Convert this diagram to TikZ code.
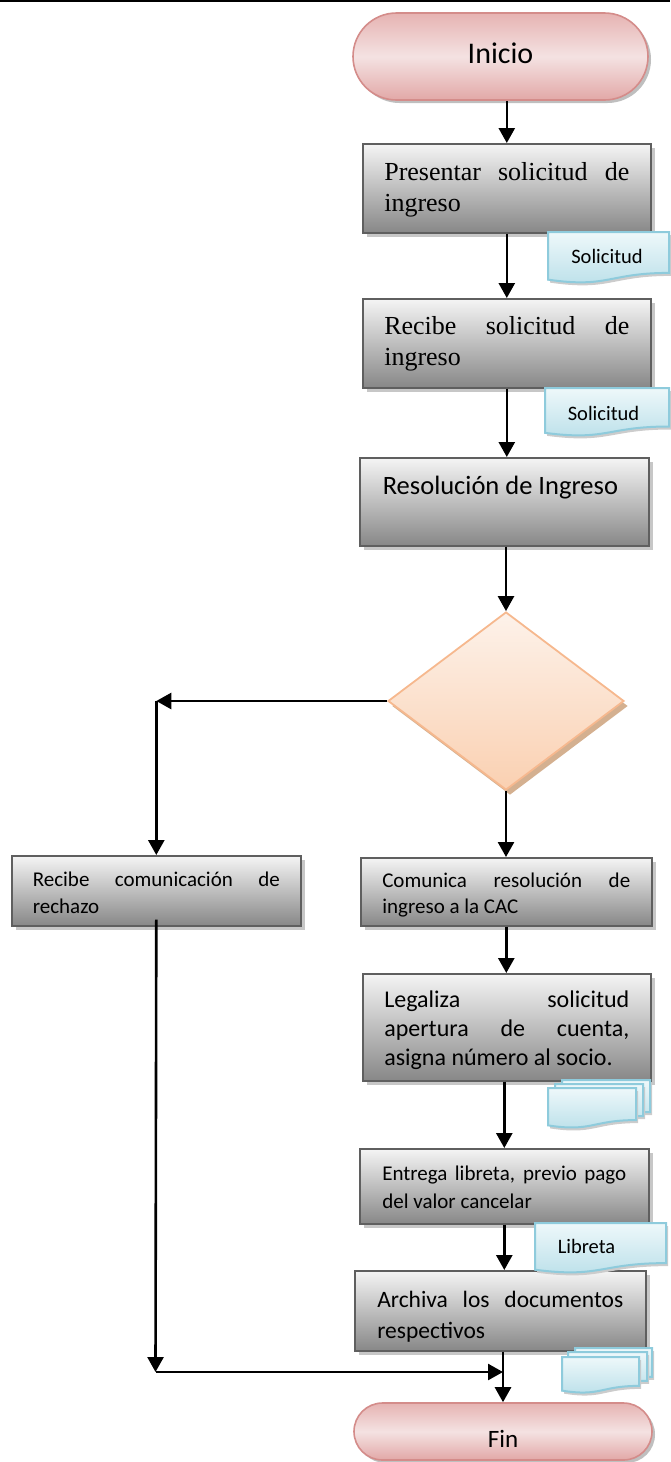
\documentclass[tikz,border=0pt]{standalone}
\usepackage{fontspec}
\setmainfont{Carlito}
\newfontfamily\timesf{Liberation Serif}
\usetikzlibrary{arrows.meta,shapes.geometric,shapes.misc,shadows}

\definecolor{termtop}{HTML}{E6B3B2}
\definecolor{termmid}{HTML}{F4E2E2}
\definecolor{termbot}{HTML}{E2A8A7}
\definecolor{termline}{HTML}{D48C8A}
\definecolor{diatop}{HTML}{FDF2EA}
\definecolor{diabot}{HTML}{FAD0B1}
\definecolor{dialine}{HTML}{F6B88E}
\definecolor{diashadow}{HTML}{D4B090}
\definecolor{doctop}{HTML}{EEF8FA}
\definecolor{docbot}{HTML}{B9DFE9}
\definecolor{docline}{HTML}{8ECBDC}
\definecolor{boxline}{HTML}{5F5F5F}

\newcommand\tst[1]{\rule{0pt}{#1pt}}
\newcommand\bst[1]{\rule[-#1pt]{0pt}{#1pt}}

\newcommand\docshape[4]{%
  \fill[black!20] ({#1+2},{#2+3}) -- ({#3+2},{#2+3}) -- ({#3+2},{#2+3+0.802*#4}) .. controls ({(#1+#3)/2+2},{#2+3+0.802*#4}) and ({(#1+#3)/2+2},{#2+3+1.107*#4}) .. ({#1+2},{#2+3+0.934*#4}) -- cycle;
  \draw[draw=docline, line width=2pt, top color=doctop, bottom color=docbot] (#1,#2) -- (#3,#2) -- (#3,{#2+0.802*#4}) .. controls ({(#1+#3)/2},{#2+0.802*#4}) and ({(#1+#3)/2},{#2+1.107*#4}) .. (#1,{#2+0.934*#4}) -- cycle;
}

\tikzset{
  box/.style={draw=boxline, line width=1.6pt, top color=black!4, bottom color=black!47,
    drop shadow={shadow xshift=4pt, shadow yshift=-4pt, fill=black!22, opacity=1},
    anchor=north west, inner sep=0pt, align=justify},
  term/.style={rounded rectangle, draw=termline, line width=1.6pt, top color=termtop,
    bottom color=termbot, middle color=termmid, inner sep=0pt,
    drop shadow={shadow xshift=3pt, shadow yshift=-3pt, fill=black!25, opacity=1}},
  arr/.style={line width=2.6pt, -{Triangle[length=15pt, width=16pt]}},
  doctext/.style={font=\fontsize{20.5}{24}\selectfont, anchor=base, inner sep=0pt},
}

\begin{document}
\begin{tikzpicture}[x=1pt, y=-1pt]
\useasboundingbox (0,0) rectangle (670,1462);
\draw[line width=1.5pt] (0,1) -- (670,1);

% terminals
\node[term, minimum width=295pt, minimum height=87pt, font=\fontsize{30}{36}\selectfont] (ini) at (500.5,56.5) {Inicio\bst{7}};
\node[term, minimum width=298pt, minimum height=57pt, font=\fontsize{25}{30}\selectfont] (fin) at (503,1431.5) {\tst{31}Fin};

% process boxes
\node[box, minimum width=288pt, minimum height=89pt, text width=245pt, font=\timesf\fontsize{26}{31}\selectfont] (b1) at (362,143) {\tst{22}Presentar solicitud de\linebreak ingreso\bst{6}};
\node[box, minimum width=288pt, minimum height=89pt, text width=245pt, font=\timesf\fontsize{26}{31}\selectfont] (b2) at (362,298) {\tst{19}Recibe solicitud de\linebreak ingreso\bst{6.5}};
\node[box, minimum width=289pt, minimum height=88pt, text width=243pt, font=\fontsize{26.5}{30}\selectfont] (b3) at (359,457) {\tst{19}Resolución de Ingreso\bst{33}};

\node[diamond, draw=dialine, line width=1.8pt, top color=diatop, bottom color=diabot, minimum width=236pt, minimum height=178pt, inner sep=0pt, drop shadow={shadow xshift=4pt, shadow yshift=-5pt, fill=diashadow, opacity=1}] (dia) at (506,701) {};

\node[box, minimum width=289pt, minimum height=70pt, text width=247pt, font=\fontsize{21}{27}\selectfont] (rc) at (11,855) {\tst{20}Recibe comunicación de\linebreak rechazo\bst{1}};
\node[box, minimum width=291pt, minimum height=68pt, text width=248pt, font=\fontsize{21}{26}\selectfont] (cm) at (360,857) {\tst{23}Comunica resolución de\linebreak ingreso a la CAC\bst{5}};
\node[box, minimum width=288pt, minimum height=107pt, text width=245pt, font=\fontsize{24}{29}\selectfont] (lg) at (362,973) {\tst{25}Legaliza solicitud\linebreak apertura de cuenta,\linebreak asigna número al socio.\bst{6}};
\node[box, minimum width=289pt, minimum height=75pt, text width=244pt, font=\fontsize{21}{28}\selectfont] (en) at (359,1148) {\tst{18}Entrega libreta, previo pago\linebreak del valor cancelar\bst{1}};
\node[box, minimum width=291pt, minimum height=80pt, text width=246pt, font=\fontsize{23.5}{31}\selectfont] (ar) at (354,1270) {\tst{31}Archiva los documentos\linebreak respectivos\bst{6}};

% connectors
\draw[arr] (b1.north |- ini.south) -- (b1.north);
\draw[arr] (b1.south) -- (b2.north);
\draw[arr] (b2.south) -- (b2.south |- b3.north);
\draw[arr] (dia.north |- b3.south) -- (dia.north);
\coordinate (c1) at (rc.north |- dia.west);
\draw[arr] (dia.west) -- (c1);
\draw[arr] (c1) -- (rc.north);
\draw[arr] (dia.south) -- (dia.south |- cm.north);
\draw[arr] (cm.south) -- (cm.south |- lg.north);
\draw[arr] (en.north |- lg.south) -- (en.north);
\draw[arr] (en.south) -- (en.south |- ar.north);
\draw[arr] (fin.north |- ar.south) -- (fin.north);
\coordinate (c2) at (155.5,1372);
\draw[arr] ([yshift=7pt]rc.south) -- (c2);
\draw[arr] (c2) -- (c2 -| fin.north);

% documents
\docshape{548}{232}{669}{51}
\node[doctext] (d1) at (607,263) {Solicitud};
\docshape{545}{388}{669}{48}
\node[doctext] (d2) at (603.5,420) {Solicitud};
\docshape{562}{1080}{650}{40}
\docshape{555}{1084}{643}{40}
\docshape{548}{1088}{636}{40}
\docshape{535}{1223}{666}{50}
\node[doctext] (d3) at (586.5,1253) {Libreta};
\docshape{575}{1348}{652}{36}
\docshape{568}{1352}{647}{36}
\docshape{562}{1357}{639}{36}
\end{tikzpicture}
\end{document}
